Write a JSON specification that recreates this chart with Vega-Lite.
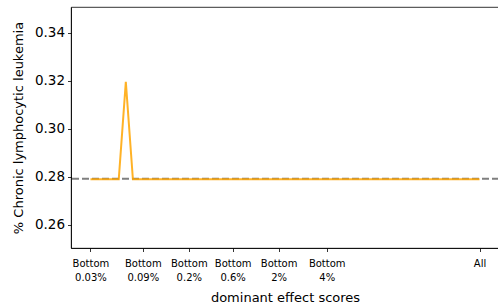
{
  "$schema": "https://vega.github.io/schema/vega-lite/v6.json",
  "width": 428,
  "height": 241,
  "autosize": {"type": "none"},
  "padding": {"left": 71, "top": 7, "right": 0, "bottom": 58},
  "background": "white",
  "config": {
    "view": {"stroke": "#000", "strokeWidth": 0.8},
    "font": "DejaVu Sans",
    "axis": {"grid": false, "domainColor": "#000", "tickColor": "#000", "labelColor": "#000", "titleColor": "#000", "titleFontWeight": "normal", "tickSize": 3.5, "domainWidth": 0.8, "tickWidth": 0.8, "labelFont": "DejaVu Sans", "titleFont": "DejaVu Sans"}
  },
  "datasets": {
    "series": [
      {"x": 0, "y": 0.279}, {"x": 1, "y": 0.279}, {"x": 2, "y": 0.279}, {"x": 3, "y": 0.279},
      {"x": 4, "y": 0.279}, {"x": 5, "y": 0.3196}, {"x": 6, "y": 0.279}, {"x": 7, "y": 0.279},
      {"x": 8, "y": 0.279}, {"x": 9, "y": 0.279}, {"x": 10, "y": 0.279}, {"x": 11, "y": 0.279},
      {"x": 12, "y": 0.279}, {"x": 13, "y": 0.279}, {"x": 14, "y": 0.279}, {"x": 15, "y": 0.279},
      {"x": 16, "y": 0.279}, {"x": 17, "y": 0.279}, {"x": 18, "y": 0.279}, {"x": 19, "y": 0.279},
      {"x": 20, "y": 0.279}, {"x": 21, "y": 0.279}, {"x": 22, "y": 0.279}, {"x": 23, "y": 0.279},
      {"x": 24, "y": 0.279}, {"x": 25, "y": 0.279}, {"x": 26, "y": 0.279}, {"x": 27, "y": 0.279},
      {"x": 28, "y": 0.279}, {"x": 29, "y": 0.279}, {"x": 30, "y": 0.279}, {"x": 31, "y": 0.279},
      {"x": 32, "y": 0.279}, {"x": 33, "y": 0.279}, {"x": 34, "y": 0.279}, {"x": 35, "y": 0.279},
      {"x": 36, "y": 0.279}, {"x": 37, "y": 0.279}, {"x": 38, "y": 0.279}, {"x": 39, "y": 0.279},
      {"x": 40, "y": 0.279}, {"x": 41, "y": 0.279}, {"x": 42, "y": 0.279}, {"x": 43, "y": 0.279},
      {"x": 44, "y": 0.279}, {"x": 45, "y": 0.279}, {"x": 46, "y": 0.279}, {"x": 47, "y": 0.279},
      {"x": 48, "y": 0.279}, {"x": 49, "y": 0.279}, {"x": 50, "y": 0.279}, {"x": 51, "y": 0.279},
      {"x": 52, "y": 0.279}, {"x": 53, "y": 0.279}, {"x": 54, "y": 0.279}, {"x": 55, "y": 0.279}
    ],
    "baseline": [{"y": 0.2793}]
  },
  "layer": [
    {
      "data": {"name": "baseline"},
      "mark": {"type": "rule", "color": "#7f7f7f", "strokeWidth": 2, "strokeDash": [7, 3]},
      "encoding": {"y": {"field": "y", "type": "quantitative", "scale": {"domain": [0.2504, 0.3508]}}}
    },
    {
      "data": {"name": "series"},
      "mark": {"type": "line", "color": "#FFA500", "strokeWidth": 2, "opacity": 0.85},
      "encoding": {
        "x": {
          "field": "x", "type": "quantitative",
          "scale": {"domain": [-2.75, 57.75], "nice": false, "zero": false},
          "axis": {
            "title": "dominant effect scores",
            "titleFontSize": 13,
            "titlePadding": 9,
            "values": [0, 7.4, 13.9, 20.1, 26.6, 33.4, 55],
            "labelFontSize": 10,
            "labelLineHeight": 14,
            "labelPadding": 7,
            "labelExpr": "datum.value < 1 ? ['Bottom', '0.03%'] : datum.value < 10 ? ['Bottom', '0.09%'] : datum.value < 17 ? ['Bottom', '0.2%'] : datum.value < 23 ? ['Bottom', '0.6%'] : datum.value < 30 ? ['Bottom', '2%'] : datum.value < 40 ? ['Bottom', '4%'] : 'All'"
          }
        },
        "y": {
          "field": "y", "type": "quantitative",
          "scale": {"domain": [0.2504, 0.3508], "nice": false, "zero": false},
          "axis": {
            "title": "% Chronic lymphocytic leukemia",
            "titleFontSize": 13,
            "titlePadding": 9,
            "values": [0.26, 0.28, 0.3, 0.32, 0.34],
            "format": ".2f",
            "labelFontSize": 13.5,
            "labelPadding": 3
          }
        }
      }
    }
  ]
}
